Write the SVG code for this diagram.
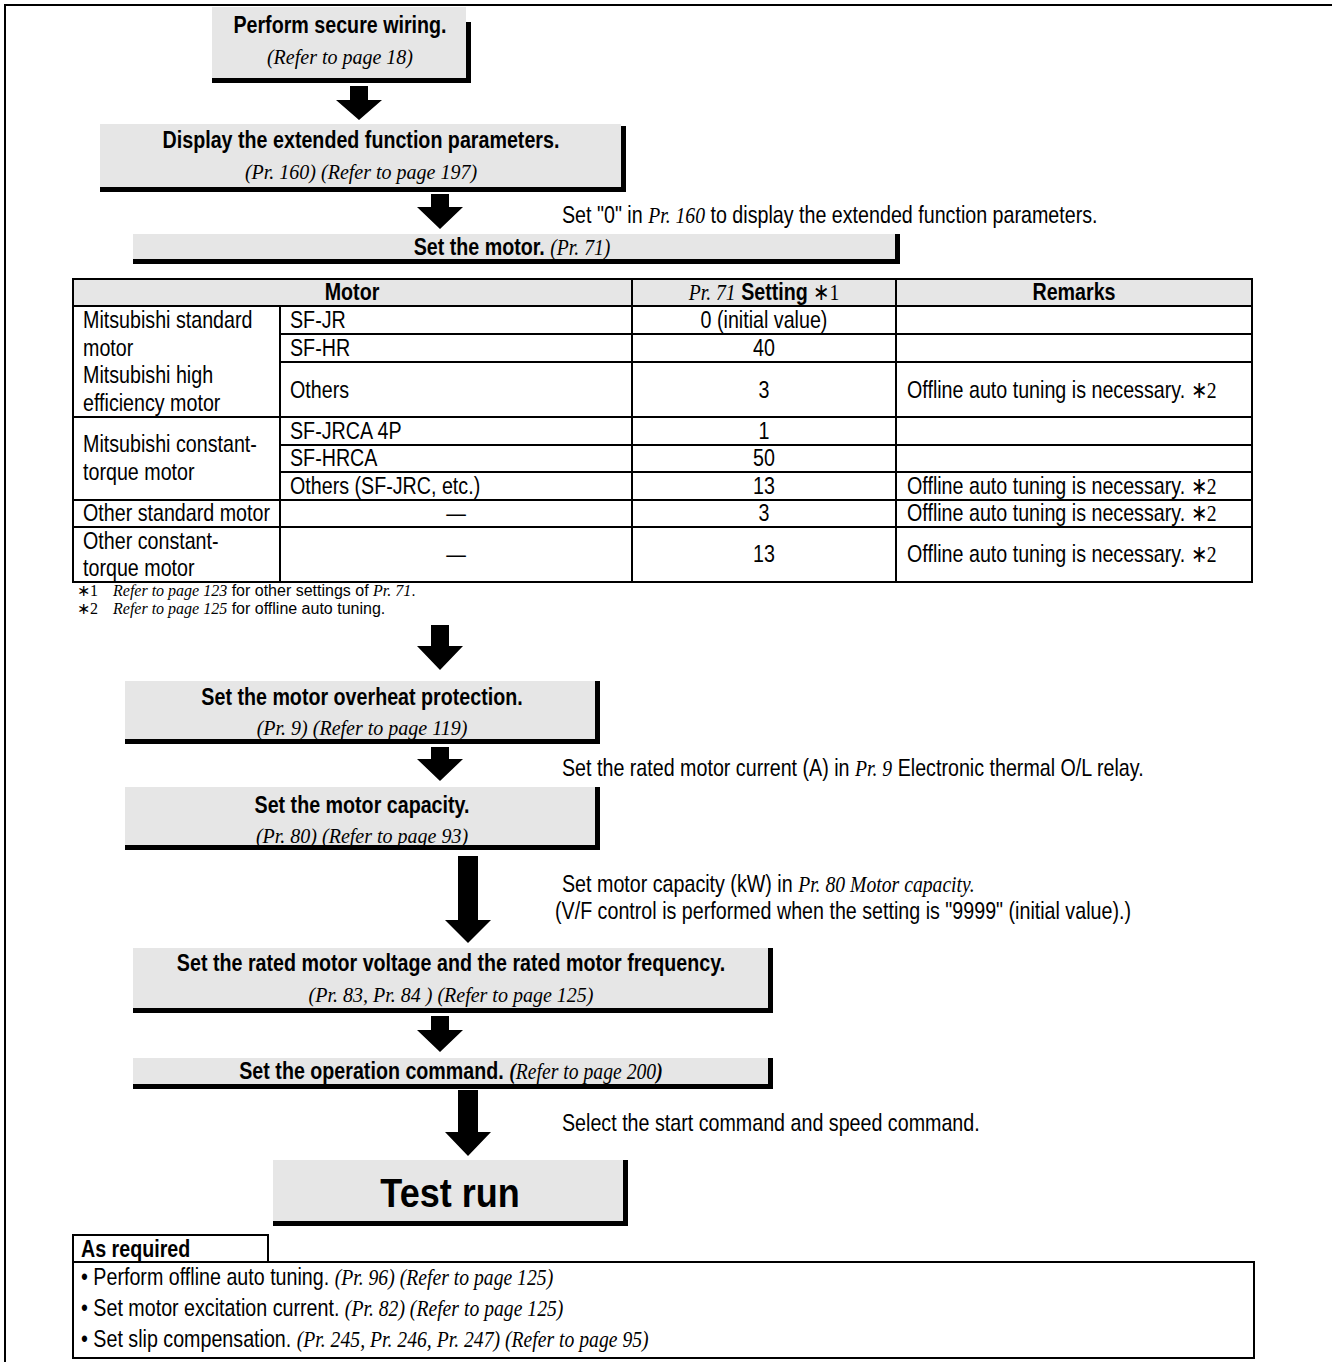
<svg xmlns="http://www.w3.org/2000/svg" width="1332" height="1367" viewBox="0 0 1332 1367">
  <style>
    .frame { fill: none; stroke: #000; stroke-width: 2; }
    .box { fill: #e6e6e6; }
    .bar { fill: #000; }
    .grid { stroke: #000; stroke-width: 2; fill: none; }
    .hdr { fill: #e6e6e6; }
    .t { font-family: "Liberation Sans", Arial, sans-serif; font-size: 24px; fill: #000; }
    .b { font-weight: bold; }
    .n { font-weight: normal; }
    .i { font-family: "Liberation Serif", "Times New Roman", serif; font-style: italic; }
    .s { font-family: "Liberation Serif", "Times New Roman", serif; }
    .sub { font-family: "Liberation Serif", "Times New Roman", serif; font-style: italic; font-size: 20px; text-anchor: middle; }
    .m { text-anchor: middle; }
    .fn { font-size: 16px; }
    .big { font-family: "Liberation Sans", Arial, sans-serif; font-weight: bold; font-size: 40px; text-anchor: middle; }
    .arrow { fill: #000; }
  </style>

  <!-- page frame (top and left edges) -->
  <path class="frame" d="M1332,5 H5 V1362"/>

  <!-- sans text is set condensed: matrix(.82 0 0 1 X 0) puts x=0 at X -->

  <!-- step: wiring -->
  <g id="step-wiring">
    <rect class="box" x="212" y="7" width="254" height="71"/>
    <rect class="bar" x="466" y="22" width="5" height="61"/>
    <rect class="bar" x="212" y="78" width="259" height="5"/>
    <text class="t b m" transform="matrix(.82 0 0 1 340 0)" x="0" y="33">Perform secure wiring.</text>
    <text class="sub" x="340" y="64">(Refer to page 18)</text>
  </g>

  <!-- step: extended parameters -->
  <g id="step-extended">
    <rect class="box" x="100" y="124" width="521" height="63"/>
    <rect class="bar" x="621" y="126" width="5" height="66"/>
    <rect class="bar" x="100" y="187" width="526" height="5"/>
    <text class="t b m" transform="matrix(.82 0 0 1 361 0)" x="0" y="148">Display the extended function parameters.</text>
    <text class="sub" x="361" y="179">(Pr. 160) (Refer to page 197)</text>
  </g>
  <text id="note-extended" class="t" transform="matrix(.82 0 0 1 562 0)" x="0" y="223">Set "0" in <tspan class="i">Pr. 160</tspan> to display the extended function parameters.</text>

  <!-- step: motor selection -->
  <g id="step-motor">
    <rect class="box" x="133" y="234" width="762" height="25"/>
    <rect class="bar" x="895" y="234" width="5" height="30"/>
    <rect class="bar" x="133" y="259" width="767" height="5"/>
    <text class="t b m" transform="matrix(.82 0 0 1 512 0)" x="0" y="255">Set the motor. <tspan class="i n">(Pr. 71)</tspan></text>
  </g>

  <!-- motor setting table -->
  <g id="motor-table">
    <rect class="hdr" x="73" y="279" width="1179" height="27"/>
    <rect class="grid" x="73" y="279" width="1179" height="303"/>
    <path class="grid" d="M73,306 H1252 M280,334 H1252 M280,362 H1252 M73,417 H1252 M280,445 H1252 M280,472 H1252 M73,500 H1252 M73,527 H1252 M280,306 V582 M632,279 V582 M896,279 V582"/>

    <text class="t b m" transform="matrix(.82 0 0 1 352 0)" x="0" y="300">Motor</text>
    <text class="t m" transform="matrix(.82 0 0 1 764 0)" x="0" y="300"><tspan class="i">Pr. 71</tspan> <tspan class="b">Setting</tspan> <tspan class="s">∗1</tspan></text>
    <text class="t b m" transform="matrix(.82 0 0 1 1074 0)" x="0" y="300">Remarks</text>

    <g transform="matrix(.82 0 0 1 83 0)">
      <text class="t" x="0" y="328">Mitsubishi standard</text>
      <text class="t" x="0" y="356">motor</text>
      <text class="t" x="0" y="383">Mitsubishi high</text>
      <text class="t" x="0" y="411">efficiency motor</text>
      <text class="t" x="0" y="452">Mitsubishi constant-</text>
      <text class="t" x="0" y="480">torque motor</text>
      <text class="t" x="0" y="521">Other standard motor</text>
      <text class="t" x="0" y="549">Other constant-</text>
      <text class="t" x="0" y="576">torque motor</text>
    </g>
    <g transform="matrix(.82 0 0 1 290 0)">
      <text class="t" x="0" y="328">SF-JR</text>
      <text class="t" x="0" y="356">SF-HR</text>
      <text class="t" x="0" y="398">Others</text>
      <text class="t" x="0" y="439">SF-JRCA 4P</text>
      <text class="t" x="0" y="466">SF-HRCA</text>
      <text class="t" x="0" y="494">Others (SF-JRC, etc.)</text>
    </g>
    <g transform="matrix(.82 0 0 1 456 0)">
      <text class="t m" x="0" y="521">—</text>
      <text class="t m" x="0" y="562">—</text>
    </g>
    <g transform="matrix(.82 0 0 1 764 0)">
      <text class="t m" x="0" y="328">0 (initial value)</text>
      <text class="t m" x="0" y="356">40</text>
      <text class="t m" x="0" y="398">3</text>
      <text class="t m" x="0" y="439">1</text>
      <text class="t m" x="0" y="466">50</text>
      <text class="t m" x="0" y="494">13</text>
      <text class="t m" x="0" y="521">3</text>
      <text class="t m" x="0" y="562">13</text>
    </g>
    <g transform="matrix(.82 0 0 1 907 0)">
      <text class="t" x="0" y="398">Offline auto tuning is necessary. <tspan class="s">∗2</tspan></text>
      <text class="t" x="0" y="494">Offline auto tuning is necessary. <tspan class="s">∗2</tspan></text>
      <text class="t" x="0" y="521">Offline auto tuning is necessary. <tspan class="s">∗2</tspan></text>
      <text class="t" x="0" y="562">Offline auto tuning is necessary. <tspan class="s">∗2</tspan></text>
    </g>
  </g>

  <!-- footnotes -->
  <g id="footnotes">
    <text class="t s fn" x="77" y="596">∗1</text>
    <text class="t fn" x="113" y="596"><tspan class="i">Refer to page 123</tspan> for other settings of <tspan class="i">Pr. 71</tspan>.</text>
    <text class="t s fn" x="77" y="614">∗2</text>
    <text class="t fn" x="113" y="614"><tspan class="i">Refer to page 125</tspan> for offline auto tuning.</text>
  </g>

  <!-- step: overheat protection -->
  <g id="step-overheat">
    <rect class="box" x="125" y="681" width="470" height="58"/>
    <rect class="bar" x="595" y="681" width="5" height="63"/>
    <rect class="bar" x="125" y="739" width="475" height="5"/>
    <text class="t b m" transform="matrix(.82 0 0 1 362 0)" x="0" y="705">Set the motor overheat protection.</text>
    <text class="sub" x="362" y="735">(Pr. 9) (Refer to page 119)</text>
  </g>
  <text id="note-overheat" class="t" transform="matrix(.82 0 0 1 562 0)" x="0" y="776">Set the rated motor current (A) in <tspan class="i">Pr. 9</tspan> Electronic thermal O/L relay.</text>

  <!-- step: motor capacity -->
  <g id="step-capacity">
    <rect class="box" x="125" y="787" width="470" height="58"/>
    <rect class="bar" x="595" y="787" width="5" height="63"/>
    <rect class="bar" x="125" y="845" width="475" height="5"/>
    <text class="t b m" transform="matrix(.82 0 0 1 362 0)" x="0" y="813">Set the motor capacity.</text>
    <text class="sub" x="362" y="843">(Pr. 80) (Refer to page 93)</text>
  </g>
  <g id="note-capacity">
    <text class="t" transform="matrix(.82 0 0 1 562 0)" x="0" y="892">Set motor capacity (kW) in <tspan class="i">Pr. 80 Motor capacity.</tspan></text>
    <text class="t" transform="matrix(.82 0 0 1 555 0)" x="0" y="919">(V/F control is performed when the setting is "9999" (initial value).)</text>
  </g>

  <!-- step: rated voltage / frequency -->
  <g id="step-rated">
    <rect class="box" x="133" y="948" width="635" height="60"/>
    <rect class="bar" x="768" y="948" width="5" height="65"/>
    <rect class="bar" x="133" y="1008" width="640" height="5"/>
    <text class="t b m" transform="matrix(.82 0 0 1 451 0)" x="0" y="971">Set the rated motor voltage and the rated motor frequency.</text>
    <text class="sub" x="451" y="1002">(Pr. 83, Pr. 84 ) (Refer to page 125)</text>
  </g>

  <!-- step: operation command -->
  <g id="step-operation">
    <rect class="box" x="133" y="1058" width="635" height="26"/>
    <rect class="bar" x="768" y="1058" width="5" height="31"/>
    <rect class="bar" x="133" y="1084" width="640" height="5"/>
    <text class="t b m" transform="matrix(.82 0 0 1 451 0)" x="0" y="1079">Set the operation command. <tspan class="i">(</tspan><tspan class="i n">Refer to page 200</tspan><tspan class="i">)</tspan></text>
  </g>
  <text id="note-operation" class="t" transform="matrix(.82 0 0 1 562 0)" x="0" y="1131">Select the start command and speed command.</text>

  <!-- step: test run -->
  <g id="step-testrun">
    <rect class="box" x="273" y="1160" width="350" height="61"/>
    <rect class="bar" x="623" y="1160" width="5" height="66"/>
    <rect class="bar" x="273" y="1221" width="355" height="5"/>
    <text class="big" transform="matrix(.9 0 0 1 450 0)" x="0" y="1207">Test run</text>
  </g>

  <!-- optional settings -->
  <g id="as-required">
    <rect class="grid" x="73" y="1235" width="195" height="27"/>
    <rect class="grid" x="73" y="1262" width="1181" height="96"/>
    <g transform="matrix(.82 0 0 1 81 0)">
      <text class="t b" x="0" y="1257">As required</text>
      <text class="t" x="0" y="1285">• Perform offline auto tuning. <tspan class="i">(Pr. 96) (Refer to page 125)</tspan></text>
      <text class="t" x="0" y="1316">• Set motor excitation current. <tspan class="i">(Pr. 82) (Refer to page 125)</tspan></text>
      <text class="t" x="0" y="1347">• Set slip compensation. <tspan class="i">(Pr. 245, Pr. 246, Pr. 247) (Refer to page 95)</tspan></text>
    </g>
  </g>

  <!-- flow arrows -->
  <g id="connectors">
    <polygon class="arrow" points="350,86 368,86 368,100 382,100 359,120 336,100 350,100"/>
    <polygon class="arrow" points="431,194 449,194 449,207 463,207 440,229 417,207 431,207"/>
    <polygon class="arrow" points="431,625 449,625 449,646 463,646 440,670 417,646 431,646"/>
    <polygon class="arrow" points="431,747 449,747 449,759 463,759 440,781 417,759 431,759"/>
    <polygon class="arrow" points="458,856 478,856 478,920 491,920 468,943 445,920 458,920"/>
    <polygon class="arrow" points="431,1016 449,1016 449,1030 463,1030 440,1052 417,1030 431,1030"/>
    <polygon class="arrow" points="458,1090 478,1090 478,1132 491,1132 468,1156 445,1132 458,1132"/>
  </g>
</svg>
